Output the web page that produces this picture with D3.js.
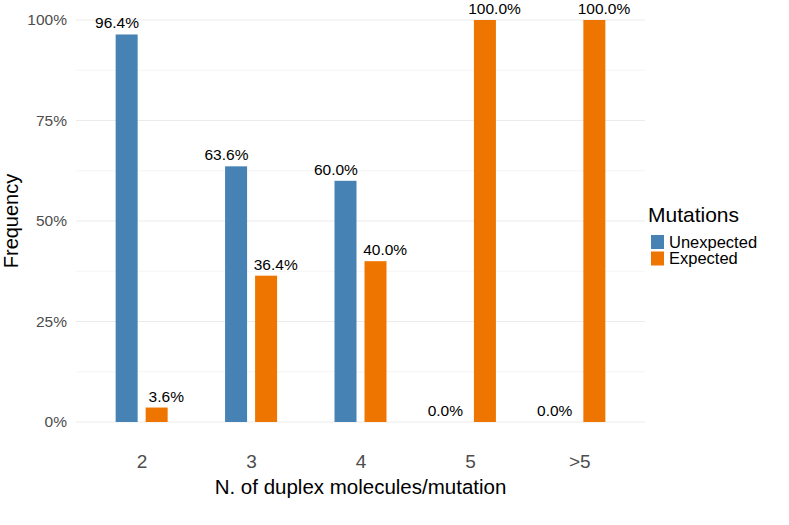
<!DOCTYPE html>
<html>
<head>
<meta charset="utf-8">
<script src="https://cdn.jsdelivr.net/npm/d3@7"></script>
<style>
  body { margin: 0; background: #fff; }
  svg { display: block; font-family: "Liberation Sans", Arial, sans-serif; }
</style>
</head>
<body>
<div id="chart"></div>
<script>
const categories = ["2", "3", "4", "5", ">5"];
const series = ["Unexpected", "Expected"];
const unexpected = [96.4, 63.6, 60.0, 0.0, 0.0];
const expected = [3.6, 36.4, 40.0, 100.0, 100.0];
const yTicks = [0, 25, 50, 75, 100];

const width = 789, height = 525;
const margin = { top: 20, right: 144, bottom: 103, left: 76 };

const colors = d3.scaleOrdinal().domain(series).range(["#4682B4", "#EE7600"]);

// rows for drawing
const rows = [];
categories.forEach((c, i) => {
    rows.push({ cat: c, key: "Unexpected", value: unexpected[i] });
    rows.push({ cat: c, key: "Expected", value: expected[i] });
});

const svg = d3.select("#chart").append("svg")
    .attr("width", width)
    .attr("height", height);

const x = d3.scalePoint()
    .domain(categories)
    .range([margin.left, width - margin.right])
    .padding(0.6);

// bars dodge narrow, labels dodge wider (like position_dodge(0.9))
const x1 = d3.scaleBand()
    .domain(series)
    .range([-26, 26])
    .paddingInner(0.2667);

const xLab = d3.scaleBand()
    .domain(series)
    .range([-0.45 * x.step(), 0.45 * x.step()]);

const y = d3.scaleLinear()
    .domain([0, 100])
    .range([height - margin.bottom, margin.top]);

// ──── gridlines ────
const minor = d3.range(12.5, 100, 25);
svg.append("g")
    .selectAll("line")
    .data(minor)
    .join("line")
    .attr("x1", margin.left).attr("x2", width - margin.right)
    .attr("y1", d => y(d)).attr("y2", d => y(d))
    .attr("stroke", "#EBEBEB")
    .attr("stroke-width", 0.55);

svg.append("g")
    .selectAll("line")
    .data(yTicks)
    .join("line")
    .attr("x1", margin.left).attr("x2", width - margin.right)
    .attr("y1", d => y(d)).attr("y2", d => y(d))
    .attr("stroke", "#EBEBEB")
    .attr("stroke-width", 1.1);

// ──── y axis ────
const yAxis = svg.append("g")
    .attr("transform", `translate(${margin.left},0)`)
    .call(d3.axisLeft(y).tickValues(yTicks).tickFormat(d => d + "%").tickSize(0).tickPadding(9));
yAxis.select(".domain").remove();
yAxis.selectAll("text")
    .attr("fill", "#4D4D4D")
    .style("font-size", "15.5px")
    .style("font-family", "Liberation Sans, Arial, sans-serif");

// ──── x axis ────
const xAxis = svg.append("g")
    .attr("transform", `translate(0,${height - margin.bottom})`)
    .call(d3.axisBottom(x).tickSize(0).tickPadding(33));
xAxis.select(".domain").remove();
xAxis.selectAll("text")
    .attr("fill", "#4D4D4D")
    .style("font-size", "19px")
    .style("font-family", "Liberation Sans, Arial, sans-serif");

// ──── bars ────
svg.append("g")
    .selectAll("rect")
    .data(rows)
    .join("rect")
    .attr("x", d => x(d.cat) + x1(d.key))
    .attr("width", x1.bandwidth())
    .attr("y", d => y(d.value))
    .attr("height", d => y(0) - y(d.value))
    .attr("fill", d => colors(d.key));

// ──── bar labels ────
svg.append("g")
    .attr("text-anchor", "middle")
    .selectAll("text")
    .data(rows)
    .join("text")
    .attr("x", d => x(d.cat) + xLab(d.key) + xLab.bandwidth() / 2)
    .attr("y", d => y(d.value) - 6)
    .attr("font-size", "15.5px")
    .attr("fill", "#000")
    .text(d => d.value.toFixed(1) + "%");

// ──── axis titles ────
svg.append("text")
    .attr("x", (margin.left + width - margin.right) / 2)
    .attr("y", 494)
    .attr("text-anchor", "middle")
    .attr("font-size", "20.5px")
    .attr("fill", "#000")
    .text("N. of duplex molecules/mutation");

svg.append("text")
    .attr("transform", `translate(18,${(y(0) + y(100)) / 2}) rotate(-90)`)
    .attr("text-anchor", "middle")
    .attr("font-size", "20px")
    .attr("fill", "#000")
    .text("Frequency");

// ──── legend ────
const legend = svg.append("g")
    .attr("transform", `translate(${width - margin.right + 3},0)`);

legend.append("text")
    .attr("x", 0)
    .attr("y", 222)
    .attr("font-size", "21px")
    .attr("fill", "#000")
    .text("Mutations");

const item = legend.selectAll("g.item")
    .data(series)
    .join("g")
    .attr("class", "item")
    .attr("transform", (d, i) => `translate(3,${235 + i * 16.5})`);

item.append("rect")
    .attr("width", 13)
    .attr("height", 14)
    .attr("fill", d => colors(d));

item.append("text")
    .attr("x", 18)
    .attr("y", 12.5)
    .attr("font-size", "16.5px")
    .attr("fill", "#000")
    .text(d => d);
</script>
</body>
</html>
